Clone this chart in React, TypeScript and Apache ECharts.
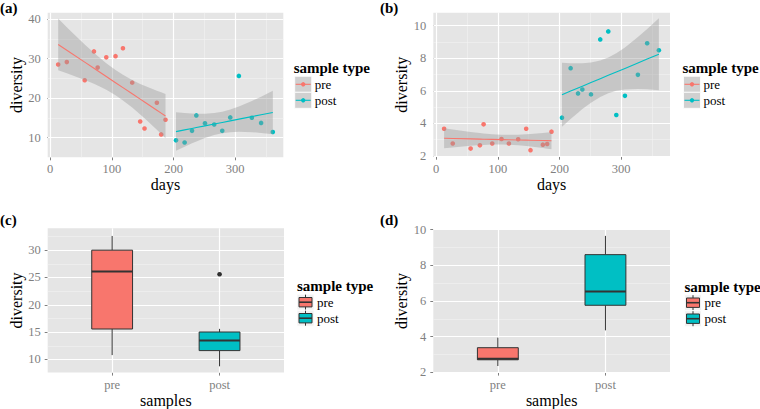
import React, { useEffect, useRef } from "react";
import * as echarts from "echarts";

// ---------------- data ----------------
const preDays = [13, 27, 56, 71, 77, 91, 106, 118, 133, 146, 153, 173, 180, 187];
const postDays = [204, 218, 230, 237, 251, 266, 279, 292, 306, 327, 342, 361];

// panel (a) / (c) diversity
const divA_pre = [28.5, 29.1, 24.5, 31.8, 27.7, 30.3, 30.6, 32.6, 23.9, 14.05, 12.3, 18.8, 10.8, 14.5];
const divA_post = [9.3, 8.75, 11.7, 15.6, 13.6, 13.3, 11.7, 15.1, 25.6, 15.0, 13.7, 11.4];
// panel (b) / (d) diversity
const divB_pre = [3.67, 2.76, 2.45, 2.65, 3.94, 2.76, 3.04, 2.76, 3.02, 3.67, 2.35, 2.69, 2.73, 3.49];
const divB_post = [4.35, 7.39, 5.84, 6.08, 5.78, 9.16, 9.65, 4.51, 5.69, 6.98, 8.92, 8.49];

const sampleTypes = ["pre", "post"];
const samplePos = [1, 2];

const dayTicks = [0, 100, 200, 300];
const dayMinor = [50, 150, 250, 350];
const yTicksA = [10, 20, 30, 40];
const yMinorA = [15, 25, 35];
const yTicksB = [2, 4, 6, 8, 10];
const yMinorB = [3, 5, 7, 9];
const yTicksC = [10, 15, 20, 25, 30];
const yMinorC = [12.5, 17.5, 22.5, 27.5, 32.5];
const yTicksD = [2, 4, 6, 8, 10];
const yMinorD = [3, 5, 7, 9];

const panelLabels = ["(a)", "(b)", "(c)", "(d)"];
const legendTitle = "sample type";

// ---------------- styling ----------------
const PRE = "#F8766D";
const POST = "#00BFC4";
const FONT = "Liberation Serif";
const TICK_GREY = "#7F7F7F";

// ---------------- stats ----------------
const T975: Record<number, number> = { 10: 2.228, 12: 2.179 };

function smoothBand(xs: number[], ys: number[]) {
  const n = xs.length;
  const mx = xs.reduce((s, v) => s + v, 0) / n;
  const my = ys.reduce((s, v) => s + v, 0) / n;
  let sxx = 0;
  let sxy = 0;
  for (let i = 0; i < n; i++) {
    sxx += (xs[i] - mx) ** 2;
    sxy += (xs[i] - mx) * (ys[i] - my);
  }
  const b = sxy / sxx;
  const a = my - b * mx;
  let rss = 0;
  for (let i = 0; i < n; i++) rss += (ys[i] - a - b * xs[i]) ** 2;
  const s = Math.sqrt(rss / (n - 2));
  const t = T975[n - 2];
  return xs
    .slice()
    .sort((p, q) => p - q)
    .map((x) => {
      const f = a + b * x;
      const se = s * Math.sqrt(1 / n + (x - mx) ** 2 / sxx);
      return [x, f, f - t * se, f + t * se];
    });
}

function quantile(sorted: number[], p: number) {
  const h = (sorted.length - 1) * p;
  const lo = Math.floor(h);
  const hi = Math.ceil(h);
  return sorted[lo] + (h - lo) * (sorted[hi] - sorted[lo]);
}

function boxStats(vals: number[]) {
  const s = vals.slice().sort((a, b) => a - b);
  const q1 = quantile(s, 0.25);
  const med = quantile(s, 0.5);
  const q3 = quantile(s, 0.75);
  const iqr = q3 - q1;
  const inside = s.filter((v) => v >= q1 - 1.5 * iqr && v <= q3 + 1.5 * iqr);
  const outliers = s.filter((v) => v < q1 - 1.5 * iqr || v > q3 + 1.5 * iqr);
  return { lo: inside[0], q1, med, q3, hi: inside[inside.length - 1], outliers };
}

// ---------------- option builders ----------------
function gridLines(xMajor: number[], xMinor: number[], yMajor: number[], yMinor: number[]) {
  const major = { color: "#FFFFFF", width: 1.2, type: "solid" };
  const minor = { color: "#F2F2F2", width: 0.6, type: "solid" };
  return {
    silent: true,
    symbol: ["none", "none"],
    z: 1,
    animation: false,
    label: { show: false },
    emphasis: { disabled: true },
    data: [
      ...xMinor.map((v) => ({ xAxis: v, lineStyle: minor })),
      ...yMinor.map((v) => ({ yAxis: v, lineStyle: minor })),
      ...xMajor.map((v) => ({ xAxis: v, lineStyle: major })),
      ...yMajor.map((v) => ({ yAxis: v, lineStyle: major })),
    ],
  };
}

function axis(
  gridIndex: number,
  min: number,
  max: number,
  ticks: number[],
  name: string,
  nameGap: number,
  margin: number,
  formatter?: (v: number) => string
) {
  return {
    type: "value",
    gridIndex,
    min,
    max,
    name,
    nameLocation: "middle",
    nameGap,
    nameTextStyle: { color: "#000", fontSize: 16, fontFamily: FONT },
    axisLine: { show: false },
    axisTick: { show: true, length: 3, lineStyle: { color: TICK_GREY, width: 1 }, customValues: ticks },
    axisLabel: {
      color: TICK_GREY,
      fontSize: 12.5,
      fontFamily: FONT,
      margin,
      customValues: ticks,
      formatter: formatter || ((v: number) => String(v)),
    },
    splitLine: { show: false },
    minorTick: { show: false },
    minorSplitLine: { show: false },
  };
}

function scatterSeries(idx: number, xs: number[], ys: number[], color: string, lines?: any) {
  return {
    type: "scatter",
    xAxisIndex: idx,
    yAxisIndex: idx,
    data: xs.map((x, i) => [x, ys[i]]),
    symbolSize: 4.6,
    itemStyle: { color, opacity: 1 },
    z: 2,
    silent: true,
    ...(lines ? { markLine: lines } : {}),
  };
}

function ribbonSeries(idx: number, band: number[][]) {
  return {
    type: "custom",
    xAxisIndex: idx,
    yAxisIndex: idx,
    data: band.map((b) => [b[0], b[1]]),
    encode: { x: 0, y: 1 },
    z: 3,
    silent: true,
    renderItem: (params: any, api: any) => {
      if (params.dataIndex !== 0) return null;
      const upper = band.map((b) => api.coord([b[0], b[3]]));
      const lower = band
        .slice()
        .reverse()
        .map((b) => api.coord([b[0], b[2]]));
      return {
        type: "polygon",
        shape: { points: upper.concat(lower) },
        style: { fill: "rgba(153,153,153,0.4)" },
      };
    },
  };
}

function fitSeries(idx: number, band: number[][], color: string) {
  return {
    type: "line",
    xAxisIndex: idx,
    yAxisIndex: idx,
    data: band.map((b) => [b[0], b[1]]),
    symbol: "none",
    lineStyle: { color, width: 1.1 },
    z: 4,
    silent: true,
  };
}

function boxSeries(idx: number, groups: number[][], lines: any) {
  const stats = groups.map((g) => boxStats(g));
  const colors = [PRE, POST];
  return [
    {
      type: "custom",
      xAxisIndex: idx,
      yAxisIndex: idx,
      data: stats.map((s, i) => [samplePos[i], s.lo, s.q1, s.med, s.q3, s.hi]),
      encode: { x: 0, y: [1, 2, 3, 4, 5] },
      z: 3,
      silent: true,
      markLine: lines,
      renderItem: (params: any, api: any) => {
        const x = api.value(0);
        const pLo = api.coord([x, api.value(1)]);
        const pQ1 = api.coord([x, api.value(2)]);
        const pMed = api.coord([x, api.value(3)]);
        const pQ3 = api.coord([x, api.value(4)]);
        const pHi = api.coord([x, api.value(5)]);
        const half = api.size([0.38, 0])[0] / 2;
        const stroke = { stroke: "#333333", lineWidth: 1 };
        return {
          type: "group",
          children: [
            { type: "line", shape: { x1: pHi[0], y1: pHi[1], x2: pQ3[0], y2: pQ3[1] }, style: stroke },
            { type: "line", shape: { x1: pQ1[0], y1: pQ1[1], x2: pLo[0], y2: pLo[1] }, style: stroke },
            {
              type: "rect",
              shape: { x: pQ3[0] - half, y: pQ3[1], width: half * 2, height: pQ1[1] - pQ3[1] },
              style: { fill: colors[params.dataIndex], stroke: "#333333", lineWidth: 1 },
            },
            {
              type: "line",
              shape: { x1: pMed[0] - half, y1: pMed[1], x2: pMed[0] + half, y2: pMed[1] },
              style: { stroke: "#333333", lineWidth: 2 },
            },
          ],
        };
      },
    },
    {
      type: "scatter",
      xAxisIndex: idx,
      yAxisIndex: idx,
      data: stats.flatMap((s, i) => s.outliers.map((v) => [samplePos[i], v])),
      symbolSize: 4.6,
      itemStyle: { color: "#000000" },
      z: 4,
      silent: true,
    },
  ];
}

// ---------------- legend graphics ----------------
function text(x: number, y: number, t: string, size: number, bold = false, color = "#000") {
  return {
    type: "text",
    x,
    y,
    silent: true,
    style: {
      text: t,
      fill: color,
      fontSize: size,
      fontFamily: FONT,
      fontWeight: bold ? "bold" : "normal",
      align: "left",
      verticalAlign: "middle",
    },
  };
}

function smoothLegend(x: number, y: number) {
  const els: any[] = [text(x - 1, y, legendTitle, 15, true)];
  [PRE, POST].forEach((c, i) => {
    const top = y + 8 + i * 16;
    els.push({
      type: "rect",
      silent: true,
      shape: { x: x, y: top, width: 17, height: 16 },
      style: { fill: "#D0D0D0", stroke: "#FFFFFF", lineWidth: 0.8 },
    });
    els.push({
      type: "line",
      silent: true,
      shape: { x1: x + 1, y1: top + 8, x2: x + 16, y2: top + 8 },
      style: { stroke: c, lineWidth: 1.1 },
    });
    els.push({ type: "circle", silent: true, shape: { cx: x + 8.5, cy: top + 8, r: 2.2 }, style: { fill: c } });
    els.push(text(x + 20, top + 8, sampleTypes[i], 13));
  });
  return els;
}

function boxLegend(x: number, y: number) {
  const els: any[] = [text(x - 1, y, legendTitle, 15, true)];
  [PRE, POST].forEach((c, i) => {
    const top = y + 8 + i * 16;
    const cx = x + 7.5;
    els.push({
      type: "rect",
      silent: true,
      shape: { x: x - 1, y: top, width: 17, height: 16 },
      style: { fill: "#F2F2F2", stroke: "#FFFFFF", lineWidth: 0.8 },
    });
    els.push({
      type: "line",
      silent: true,
      shape: { x1: cx, y1: top + 0.5, x2: cx, y2: top + 15.5 },
      style: { stroke: "#333333", lineWidth: 1 },
    });
    els.push({
      type: "rect",
      silent: true,
      shape: { x: x + 1, y: top + 3.3, width: 13, height: 9.4 },
      style: { fill: c, stroke: "#333333", lineWidth: 1 },
    });
    els.push({
      type: "line",
      silent: true,
      shape: { x1: x + 1, y1: top + 8, x2: x + 14, y2: top + 8 },
      style: { stroke: "#333333", lineWidth: 1.6 },
    });
    els.push(text(x + 19, top + 8, sampleTypes[i], 13));
  });
  return els;
}

// ---------------- option ----------------
function buildOption() {
  const bandApre = smoothBand(preDays, divA_pre);
  const bandApost = smoothBand(postDays, divA_post);
  const bandBpre = smoothBand(preDays, divB_pre);
  const bandBpost = smoothBand(postDays, divB_post);
  const catFmt = (v: number) => sampleTypes[samplePos.indexOf(v)] ?? "";

  const gridBase = { show: true, backgroundColor: "#E5E5E5", borderWidth: 0, containLabel: false };

  return {
    animation: false,
    textStyle: { fontFamily: FONT },
    grid: [
      { ...gridBase, left: 47.7, top: 12.7, width: 235.6, height: 144.6 },
      { ...gridBase, left: 433.3, top: 12.7, width: 236.7, height: 144 },
      { ...gridBase, left: 47.7, top: 228.3, width: 236.3, height: 147.4 },
      { ...gridBase, left: 433.3, top: 229.3, width: 236.7, height: 146 },
    ],
    xAxis: [
      axis(0, -4, 378, dayTicks, "days", 17, 5.5),
      axis(1, -4.5, 379, dayTicks, "days", 17, 5.5),
      axis(2, 0.4, 2.6, samplePos, "samples", 17, 5.5, catFmt),
      axis(3, 0.4, 2.6, samplePos, "samples", 17, 5.5, catFmt),
    ],
    yAxis: [
      axis(0, 5.0, 41.6, yTicksA, "diversity", 22, 7),
      axis(1, 1.95, 10.8, yTicksB, "diversity", 18, 7),
      axis(2, 7.6, 34.0, yTicksC, "diversity", 22, 7),
      axis(3, 1.98, 10.02, yTicksD, "diversity", 18, 7),
    ],
    series: [
      scatterSeries(0, preDays, divA_pre, PRE, gridLines(dayTicks, dayMinor, yTicksA, yMinorA)),
      scatterSeries(0, postDays, divA_post, POST),
      ribbonSeries(0, bandApre),
      ribbonSeries(0, bandApost),
      fitSeries(0, bandApre, PRE),
      fitSeries(0, bandApost, POST),
      scatterSeries(1, preDays, divB_pre, PRE, gridLines(dayTicks, dayMinor, yTicksB, yMinorB)),
      scatterSeries(1, postDays, divB_post, POST),
      ribbonSeries(1, bandBpre),
      ribbonSeries(1, bandBpost),
      fitSeries(1, bandBpre, PRE),
      fitSeries(1, bandBpost, POST),
      ...boxSeries(2, [divA_pre, divA_post], gridLines(samplePos, [], yTicksC, yMinorC)),
      ...boxSeries(3, [divB_pre, divB_post], gridLines(samplePos, [], yTicksD, yMinorD)),
    ],
    graphic: [
      text(0, 8, panelLabels[0], 15, true),
      text(380, 8, panelLabels[1], 15, true),
      text(0, 219.5, panelLabels[2], 15, true),
      text(380, 220, panelLabels[3], 15, true),
      ...smoothLegend(294.7, 68.3),
      ...smoothLegend(683.5, 68.3),
      ...boxLegend(298, 286.2),
      ...boxLegend(685.5, 286.7),
    ],
  };
}

export default function App() {
  const ref = useRef<HTMLDivElement>(null);
  useEffect(() => {
    if (!ref.current) return;
    const chart = echarts.init(ref.current, null, { renderer: "svg" });
    chart.setOption(buildOption() as any);
    return () => chart.dispose();
  }, []);
  return (
    <div
      ref={ref}
      style={{ position: "absolute", left: 0, top: 0, width: 760, height: 409, background: "#ffffff" }}
    />
  );
}
